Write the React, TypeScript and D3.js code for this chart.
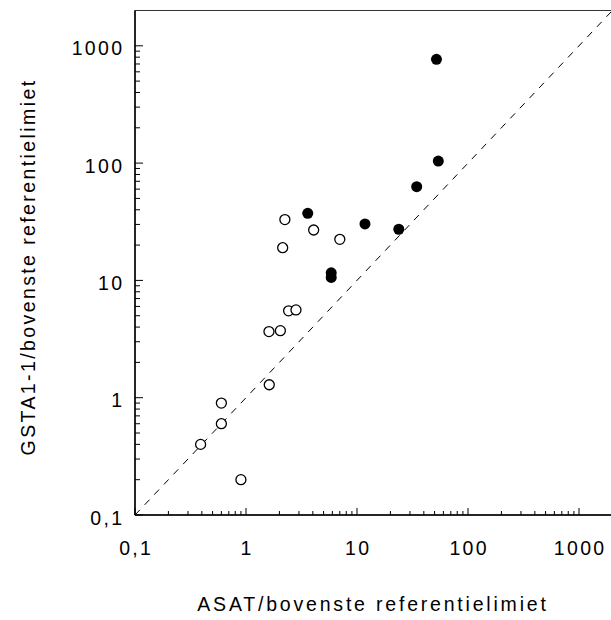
import React, { useEffect, useRef } from 'react';
import * as d3 from 'd3';

// open circles: [ASAT, GSTA1-1]
const openX = [0.39, 0.6, 0.6, 0.9, 1.62, 1.61, 2.04, 2.42, 2.82, 2.14, 2.24, 4.07, 7.0];
const openY = [0.40, 0.9, 0.6, 0.2, 1.29, 3.66, 3.73, 5.5, 5.6, 19, 33, 26.9, 22.4];

// filled circles
const filledX = [3.6, 5.86, 5.86, 11.8, 23.8, 34.5, 52, 54];
const filledY = [37.3, 11.6, 10.6, 30.3, 27.3, 63, 767, 104];

const majorTicks = [0.1, 1, 10, 100, 1000];
const tickLabels = ['0,1', '1', '10', '100', '1000'];
const domainMin = 0.1;
const domainMax = 2000;

const xTitle = 'ASAT/bovenste referentielimiet';
const yTitle = 'GSTA1-1/bovenste referentielimiet';

const App = () => {
  const svgRef = useRef<SVGSVGElement | null>(null);

  useEffect(() => {
    if (!svgRef.current) return;
    d3.select(svgRef.current).selectAll('*').remove();

    const width = 611;
    const height = 620;
    const left = 135;
    const bottom = 515;
    const decadesX = 111;
    const decadesY = 117.3;
    const nDec = Math.log10(domainMax / domainMin);

    const svg = d3.select(svgRef.current)
      .attr('width', width)
      .attr('height', height)
      .style('background', '#fff');

    const x = d3.scaleLog().domain([domainMin, domainMax]).range([left, left + nDec * decadesX]);
    const y = d3.scaleLog().domain([domainMin, domainMax]).range([bottom, bottom - nDec * decadesY]);

    const font = 'Arial, "Liberation Sans", Helvetica, sans-serif';
    const fs = '19.5px';
    const ls = 2.3;

    // minor tick values
    const minor: number[] = [];
    majorTicks.forEach(t => {
      for (let k = 2; k <= 9; k++) {
        const v = t * k;
        if (v < domainMax) minor.push(v);
      }
    });

    // frame (top + right)
    svg.append('rect')
      .attr('x', x(domainMin))
      .attr('y', y(domainMax))
      .attr('width', x(domainMax) - x(domainMin))
      .attr('height', y(domainMin) - y(domainMax))
      .attr('fill', 'none')
      .attr('stroke', '#333')
      .attr('stroke-width', 1);

    // axes lines
    svg.append('line')
      .attr('x1', left).attr('x2', x(domainMax))
      .attr('y1', bottom).attr('y2', bottom)
      .attr('stroke', '#000').attr('stroke-width', 1.5);
    svg.append('line')
      .attr('x1', left).attr('x2', left)
      .attr('y1', bottom).attr('y2', y(domainMax))
      .attr('stroke', '#000').attr('stroke-width', 1.5);

    // x ticks (inward)
    majorTicks.forEach(t => {
      svg.append('line')
        .attr('x1', x(t)).attr('x2', x(t))
        .attr('y1', bottom).attr('y2', bottom - 7)
        .attr('stroke', '#000').attr('stroke-width', 1);
    });
    minor.forEach(t => {
      svg.append('line')
        .attr('x1', x(t)).attr('x2', x(t))
        .attr('y1', bottom).attr('y2', bottom - 4)
        .attr('stroke', '#000').attr('stroke-width', 1);
    });

    // y ticks (inward)
    majorTicks.forEach(t => {
      svg.append('line')
        .attr('x1', left).attr('x2', left + 8)
        .attr('y1', y(t)).attr('y2', y(t))
        .attr('stroke', '#000').attr('stroke-width', 1);
    });
    minor.forEach(t => {
      svg.append('line')
        .attr('x1', left).attr('x2', left + 5)
        .attr('y1', y(t)).attr('y2', y(t))
        .attr('stroke', '#000').attr('stroke-width', 1);
    });

    // tick labels
    majorTicks.forEach((t, i) => {
      svg.append('text')
        .attr('x', x(t) + ls / 2)
        .attr('y', 555)
        .attr('text-anchor', 'middle')
        .attr('font-family', font)
        .attr('font-size', fs)
        .attr('letter-spacing', `${ls}px`)
        .attr('fill', '#000')
        .text(tickLabels[i]);

      svg.append('text')
        .attr('x', 122 + ls)
        .attr('y', y(t) + 9.5)
        .attr('text-anchor', 'end')
        .attr('font-family', font)
        .attr('font-size', fs)
        .attr('letter-spacing', `${ls}px`)
        .attr('fill', '#000')
        .text(tickLabels[i]);
    });

    // identity line
    svg.append('line')
      .attr('x1', x(domainMin)).attr('y1', y(domainMin))
      .attr('x2', x(domainMax)).attr('y2', y(domainMax))
      .attr('stroke', '#000')
      .attr('stroke-width', 1)
      .attr('stroke-dasharray', '7,7');

    // open points
    openX.forEach((v, i) => {
      svg.append('circle')
        .attr('cx', x(v))
        .attr('cy', y(openY[i]))
        .attr('r', 5)
        .attr('fill', '#fff')
        .attr('stroke', '#000')
        .attr('stroke-width', 1.3);
    });

    // filled points
    filledX.forEach((v, i) => {
      svg.append('circle')
        .attr('cx', x(v))
        .attr('cy', y(filledY[i]))
        .attr('r', 5.5)
        .attr('fill', '#000');
    });

    // titles
    svg.append('text')
      .attr('x', 373)
      .attr('y', 611)
      .attr('text-anchor', 'middle')
      .attr('font-family', font)
      .attr('font-size', fs)
      .attr('letter-spacing', '2.8px')
      .attr('fill', '#000')
      .text(xTitle);

    svg.append('text')
      .attr('transform', 'translate(35,267) rotate(-90)')
      .attr('text-anchor', 'middle')
      .attr('font-family', font)
      .attr('font-size', fs)
      .attr('letter-spacing', '2.4px')
      .attr('fill', '#000')
      .text(yTitle);
  }, []);

  return (
    <svg ref={svgRef} style={{ position: 'absolute', left: 0, top: 0 }}></svg>
  );
};

export default App;
